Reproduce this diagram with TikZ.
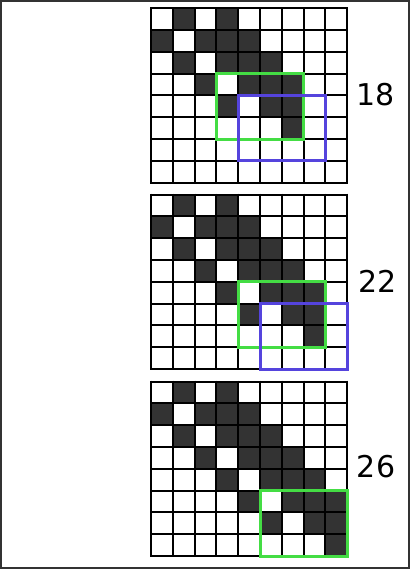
\documentclass[tikz,border=0pt]{standalone}
\usepackage{fontspec}
\setmainfont{DejaVu Sans}
\definecolor{darkcell}{HTML}{333333}
\definecolor{framegray}{HTML}{333333}
\definecolor{boxgreen}{HTML}{44DD44}
\definecolor{boxblue}{HTML}{5544DD}
\begin{document}
\begin{tikzpicture}[x=1pt,y=-1pt,
  cell/.style={fill=darkcell,draw=none},
  gridline/.style={draw=black,line width=2pt},
  greenbox/.style={draw=boxgreen,line width=3pt},
  bluebox/.style={draw=boxblue,line width=3pt},
  numlabel/.style={font=\fontsize{30}{36}\selectfont,inner sep=0pt}]
\useasboundingbox (0,0) rectangle (410,569);
\draw[draw=framegray,line width=2pt] (1,1) rectangle (409,568);
\def\cs{21.8}
\def\gx{151}
% base dark cells (rows 0-3) for all three grids
\foreach \gy in {8.3,194.6,381.6}{
  \foreach \c/\r in {1/0,3/0,0/1,2/1,3/1,4/1,1/2,3/2,4/2,5/2,2/3,4/3,5/3,6/3}{
    \fill[cell] (\gx+\c*\cs,\gy+\r*\cs) rectangle ++(\cs,\cs);
  }
}
% grid 1 extra
\foreach \c/\r in {3/4,5/4,6/4,6/5}{
  \fill[cell] (\gx+\c*\cs,8.3+\r*\cs) rectangle ++(\cs,\cs);
}
% grid 2 extra
\foreach \c/\r in {3/4,5/4,6/4,7/4,4/5,6/5,7/5,7/6}{
  \fill[cell] (\gx+\c*\cs,194.6+\r*\cs) rectangle ++(\cs,\cs);
}
% grid 3 extra
\foreach \c/\r in {3/4,5/4,6/4,7/4,4/5,6/5,7/5,8/5,5/6,7/6,8/6,8/7}{
  \fill[cell] (\gx+\c*\cs,381.6+\r*\cs) rectangle ++(\cs,\cs);
}
% grid lines
\foreach \gy in {8.3,194.6,381.6}{
  \foreach \i in {0,...,9}{
    \draw[gridline] (\gx+\i*\cs,\gy-1) -- (\gx+\i*\cs,\gy+8*\cs+1);
  }
  \foreach \j in {0,...,8}{
    \draw[gridline] (\gx-1,\gy+\j*\cs) -- (\gx+9*\cs+1,\gy+\j*\cs);
  }
}
% highlight boxes
\draw[greenbox] (\gx+3*\cs,8.3+3*\cs) rectangle (\gx+7*\cs,8.3+6*\cs);
\draw[bluebox] (\gx+4*\cs,8.3+4*\cs) rectangle (\gx+8*\cs,8.3+7*\cs);
\draw[greenbox] (\gx+4*\cs,194.6+4*\cs) rectangle (\gx+8*\cs,194.6+7*\cs);
\draw[bluebox] (\gx+5*\cs,194.6+5*\cs) rectangle (\gx+9*\cs,194.6+8*\cs);
\draw[greenbox] (\gx+5*\cs,381.6+5*\cs) rectangle (\gx+9*\cs,381.6+8*\cs);
% labels
\node[numlabel] (l18) at (375.5,94.2) {18};
\node[numlabel] (l22) at (377.5,281.7) {22};
\node[numlabel] (l26) at (376,466.7) {26};
\end{tikzpicture}
\end{document}
